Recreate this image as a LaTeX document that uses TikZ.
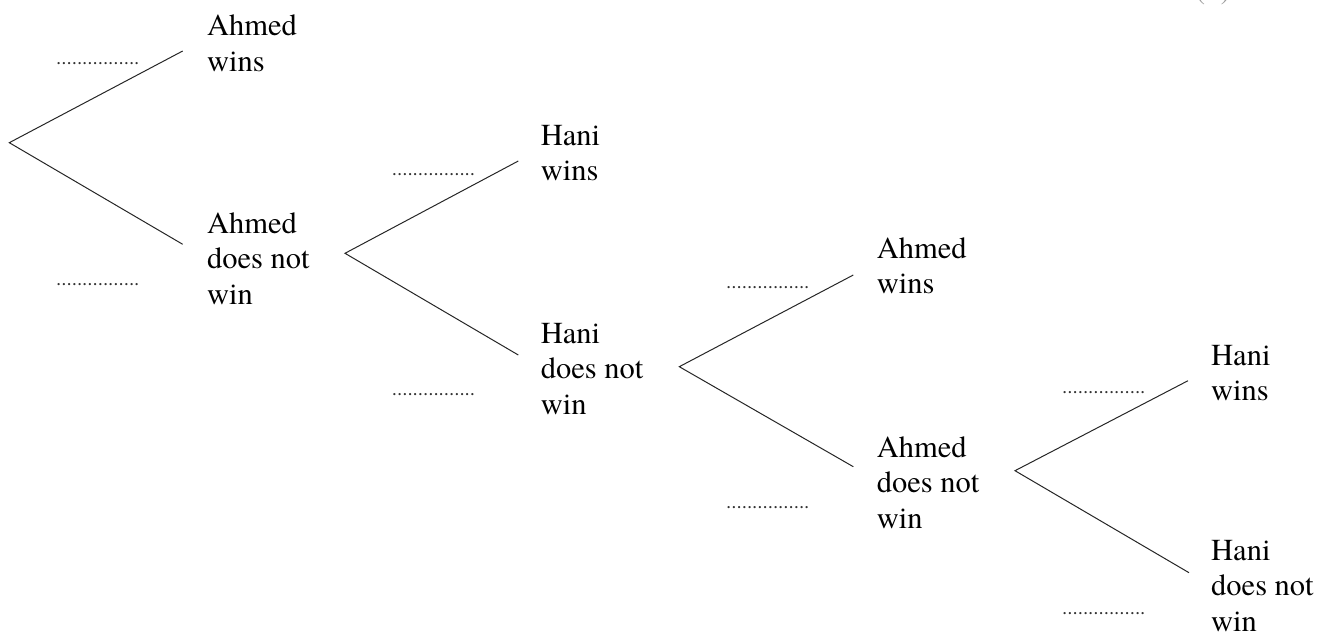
\documentclass[tikz,border=0pt]{standalone}
\usepackage{fontspec}
\setmainfont{texgyretermes-regular.otf}
\newcommand{\lbl}[1]{\begin{tabular}[t]{@{}l@{}}#1\end{tabular}}
\renewcommand{\arraystretch}{1}
\tikzset{
  lab/.style={anchor=base west, inner sep=0pt, font=\rmfamily\fontsize{30.5}{35.5}\selectfont},
  blank/.style={anchor=base west, inner sep=0pt, text=black!80, font=\rmfamily\fontsize{20.8}{24}\selectfont},
  branch/.style={line width=1pt, black!85}
}
\begin{document}
\begin{tikzpicture}[x=1pt, y=-1pt]
\useasboundingbox (0,0) rectangle (1333,637);

% gray mark cut at top right
\node[anchor=base west, inner sep=0pt, text=black!40, font=\rmfamily\fontsize{30.5}{35.5}\selectfont] (mark) at (1195,0) {(\hspace{0.5em})};

% tree 1
\coordinate (r1) at (9.3,142.7);
\coordinate (u1) at (182.7,51);
\coordinate (d1) at (182.7,244.3);
\node[lab] (t1u) at (207,35.7) {\lbl{Ahmed\\wins}};
\node[lab] (t1d) at (207,233) {\lbl{Ahmed\\does not\\win}};
\node[blank] (p1u) at (56,64.5) {................};
\node[blank] (p1d) at (56,285.5) {................};
\draw[branch] (u1) -- (r1) -- (d1);

% tree 2
\coordinate (r2) at (345,253.3);
\coordinate (u2) at (518.3,161);
\coordinate (d2) at (518.3,355);
\node[lab] (t2u) at (540.7,145) {\lbl{Hani\\wins}};
\node[lab] (t2d) at (540.7,343) {\lbl{Hani\\does not\\win}};
\node[blank] (p2u) at (391.7,175) {................};
\node[blank] (p2d) at (391.7,395.5) {................};
\draw[branch] (u2) -- (r2) -- (d2);

% tree 3
\coordinate (r3) at (679.3,366.7);
\coordinate (u3) at (853.3,275);
\coordinate (d3) at (853.3,466.7);
\node[lab] (t3u) at (876.7,258) {\lbl{Ahmed\\wins}};
\node[lab] (t3d) at (876.7,457) {\lbl{Ahmed\\does not\\win}};
\node[blank] (p3u) at (726,288.5) {................};
\node[blank] (p3d) at (726,508) {................};
\draw[branch] (u3) -- (r3) -- (d3);

% tree 4
\coordinate (r4) at (1015,470.7);
\coordinate (u4) at (1188,380.7);
\coordinate (d4) at (1189,572.7);
\node[lab] (t4u) at (1211,365) {\lbl{Hani\\wins}};
\node[lab] (t4d) at (1211,560) {\lbl{Hani\\does not\\win}};
\node[blank] (p4u) at (1062,393.5) {................};
\node[blank] (p4d) at (1062,614.5) {................};
\draw[branch] (u4) -- (r4) -- (d4);
\end{tikzpicture}
\end{document}
